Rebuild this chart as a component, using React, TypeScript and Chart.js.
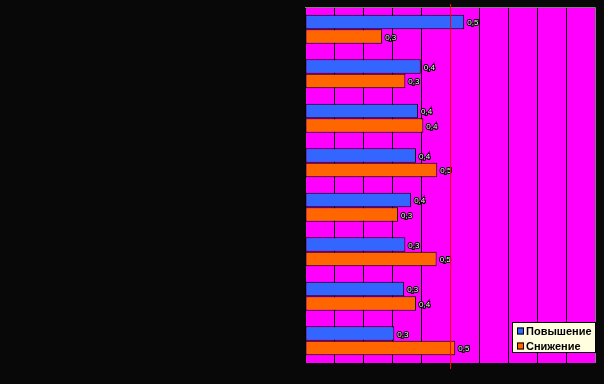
import React, { useEffect, useRef } from "react";
import { Chart, registerables } from "chart.js";

Chart.register(...registerables);

const categories = ["1", "2", "3", "4", "5", "6", "7", "8"];
const seriesNames = ["Повышение", "Снижение"];
const increaseValues = [0.549, 0.399, 0.39, 0.383, 0.366, 0.346, 0.342, 0.308];
const decreaseValues = [0.266, 0.346, 0.408, 0.456, 0.321, 0.454, 0.383, 0.518];
const xTicks = [0, 0.1, 0.2, 0.3, 0.4, 0.5, 0.6, 0.7, 0.8, 0.9, 1];
const referenceValue = 0.5;

const colors = ["#3366FF", "#FF6600"];

const bgPlugin = {
  id: "bgPlugin",
  beforeDraw(chart: any) {
    const { ctx, chartArea: a } = chart;
    ctx.save();
    ctx.fillStyle = "#080808";
    ctx.fillRect(0, 0, chart.width, chart.height);
    ctx.fillStyle = "#FF00FF";
    ctx.fillRect(a.left, a.top, a.right - a.left, a.bottom - a.top);
    ctx.restore();
  },
};

const overlayPlugin = {
  id: "overlayPlugin",
  afterDatasetsDraw(chart: any) {
    const { ctx, chartArea: a } = chart;
    ctx.save();
    ctx.strokeStyle = "#808080";
    ctx.lineWidth = 1;
    ctx.beginPath();
    ctx.moveTo(a.left, a.top + 0.5);
    ctx.lineTo(a.right + 0.5, a.top + 0.5);
    ctx.lineTo(a.right + 0.5, a.bottom);
    ctx.stroke();

    ctx.font = "8px 'Liberation Sans', Arial, sans-serif";
    ctx.textBaseline = "middle";
    ctx.textAlign = "left";
    chart.data.datasets.forEach((ds: any, di: number) => {
      const meta = chart.getDatasetMeta(di);
      meta.data.forEach((bar: any, i: number) => {
        const v = ds.data[i];
        const txt = v.toFixed(1).replace(".", ",");
        const x = bar.x + 3;
        const y = bar.y + 1;
        ctx.lineWidth = 2;
        ctx.strokeStyle = "#000000";
        ctx.strokeText(txt, x, y);
        ctx.fillStyle = "#F0F0F0";
        ctx.fillText(txt, x, y);
      });
    });

    const xs = chart.scales.x;
    const rx = Math.round(xs.getPixelForValue(referenceValue)) + 0.5;
    ctx.strokeStyle = "#FF0000";
    ctx.lineWidth = 1;
    ctx.beginPath();
    ctx.moveTo(rx, a.top - 3);
    ctx.lineTo(rx, a.bottom + 6);
    ctx.stroke();

    const lx = 512,
      ly = 322,
      lw = 84,
      lh = 31;
    ctx.fillStyle = "#FFFFE0";
    ctx.fillRect(lx, ly, lw, lh);
    ctx.strokeStyle = "#000000";
    ctx.strokeRect(lx + 0.5, ly + 0.5, lw - 1, lh - 1);
    ctx.font = "bold 11px 'Liberation Sans', Arial, sans-serif";
    ctx.textBaseline = "middle";
    chart.data.datasets.forEach((ds: any, di: number) => {
      const cy = ly + 9 + di * 15;
      ctx.fillStyle = ds.backgroundColor;
      ctx.fillRect(lx + 5, cy - 3.5, 7, 7);
      ctx.strokeStyle = "#000000";
      ctx.strokeRect(lx + 5.5, cy - 3, 6, 6);
      ctx.fillStyle = "#000000";
      ctx.fillText(ds.label, lx + 14, cy + 0.5);
    });
    ctx.restore();
  },
};

export default function App() {
  const ref = useRef<HTMLCanvasElement | null>(null);
  useEffect(() => {
    document.body.style.margin = "0";
    document.body.style.background = "#080808";
    const chart = new Chart(ref.current as HTMLCanvasElement, {
      type: "bar",
      data: {
        labels: categories,
        datasets: [
          {
            label: seriesNames[0],
            data: increaseValues,
            backgroundColor: colors[0],
            borderColor: "#000000",
            borderWidth: 1,
            borderSkipped: false,
          },
          {
            label: seriesNames[1],
            data: decreaseValues,
            backgroundColor: colors[1],
            borderColor: "#000000",
            borderWidth: 1,
            borderSkipped: false,
          },
        ],
      },
      options: {
        indexAxis: "y",
        responsive: false,
        animation: false,
        devicePixelRatio: 1,
        layout: { padding: { left: 305, top: 7, right: 9, bottom: 21 } },
        datasets: { bar: { categoryPercentage: 0.652, barPercentage: 1 } },
        plugins: { legend: { display: false }, tooltip: { enabled: false } },
        scales: {
          x: {
            min: 0,
            max: 1,
            afterBuildTicks: (s: any) => {
              s.ticks = xTicks.map((v) => ({ value: v }));
            },
            ticks: { display: false },
            grid: {
              color: (c: any) => (c.index === xTicks.length - 1 ? "rgba(0,0,0,0)" : "#000000"),
              lineWidth: 1,
              drawTicks: false,
            },
            border: { display: false },
          },
          y: {
            ticks: { display: false },
            grid: { display: false, drawTicks: false },
            border: { display: false },
          },
        },
      },
      plugins: [bgPlugin, overlayPlugin],
    });
    return () => chart.destroy();
  }, []);
  return <canvas ref={ref} width={604} height={384} style={{ display: "block" }} />;
}
